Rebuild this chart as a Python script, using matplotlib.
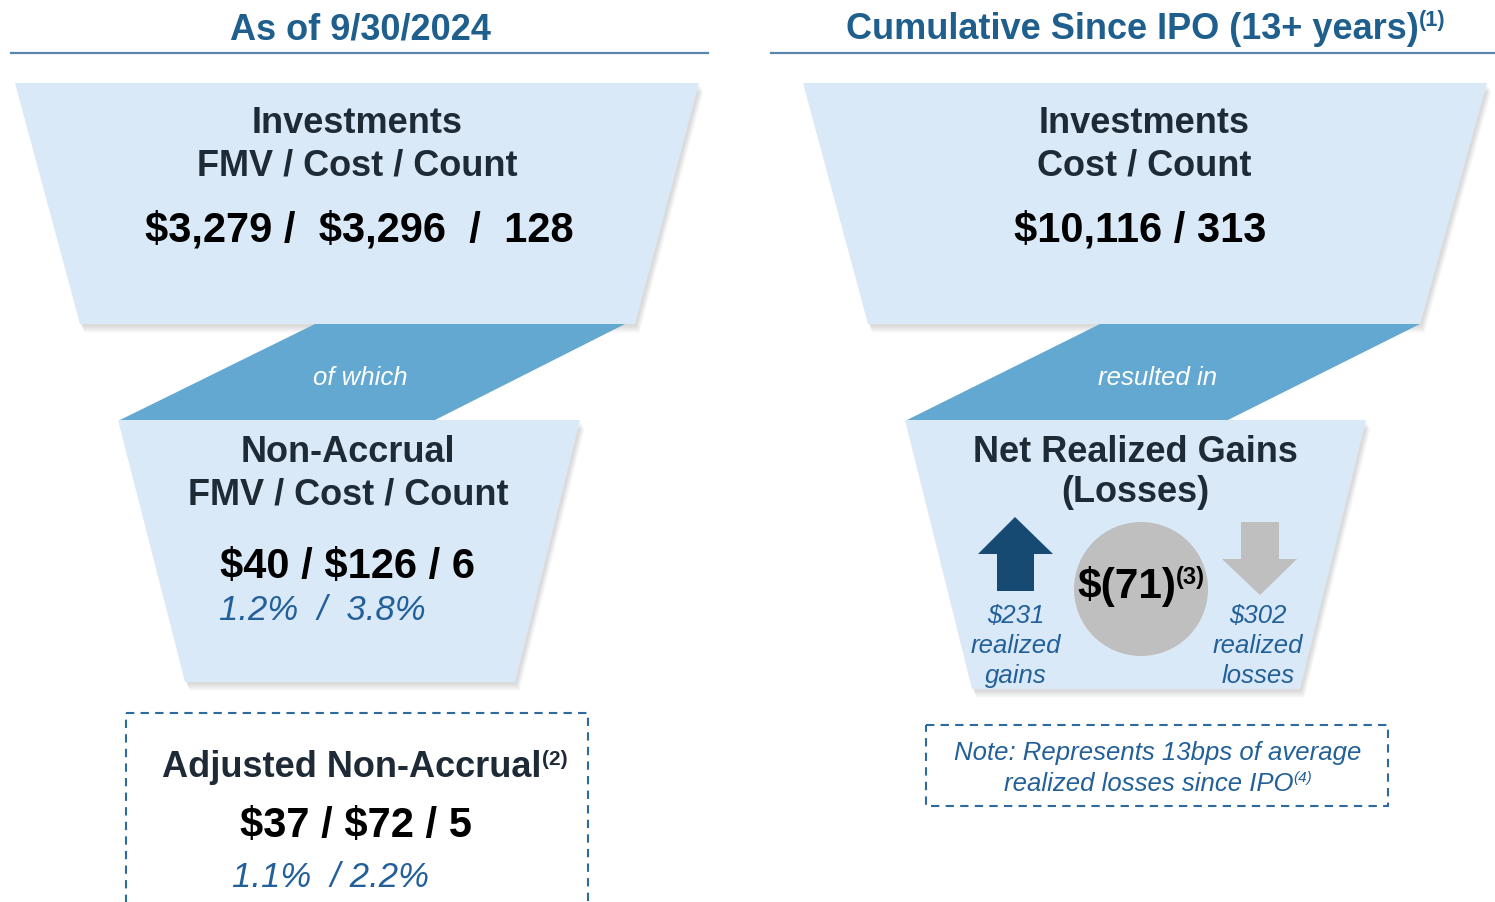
import matplotlib
matplotlib.use("Agg")
import matplotlib.pyplot as plt
from matplotlib.patches import Polygon, Rectangle, Circle
from matplotlib import font_manager
import numpy as np

# ---- texts / values ----
panel_titles = ["As of 9/30/2024", "Cumulative Since IPO (13+ years)"]
title_notes = ["", "(1)"]
top_heads = [["Investments", "FMV / Cost / Count"], ["Investments", "Cost / Count"]]
top_values = ["$3,279 /  $3,296  /  128", "$10,116 / 313"]
connectors = ["of which", "resulted in"]
nonaccrual_head = ["Non-Accrual", "FMV / Cost / Count"]
nonaccrual_value = "$40 / $126 / 6"
nonaccrual_pct = "1.2%  /  3.8%"
adj_head, adj_note = "Adjusted Non-Accrual", "(2)"
adj_value = "$37 / $72 / 5"
adj_pct = "1.1%  / 2.2%"
gains_head = ["Net Realized Gains", "(Losses)"]
net_value, net_note = "$(71)", "(3)"
gains_lines = ["$231", "realized", "gains"]
losses_lines = ["$302", "realized", "losses"]
note_lines = ["Note: Represents 13bps of average", "realized losses since IPO"]
note_ref = "(4)"

# ---- colours ----
TITLE_BLUE = "#1F5F8E"
RULE = "#5A86AD"
FILL = "#DAE9F8"
CONNECT = "#62A8D0"
HEAD = "#1E2B37"
ITAL = "#23609A"
UP = "#174A73"
GREY = "#BFBFBF"
DASH = "#2E6A9E"

names = {f.name for f in font_manager.fontManager.ttflist}
SANS = "Liberation Sans"
NARROW = "Liberation Sans Narrow" if "Liberation Sans Narrow" in names else SANS
title_size = 30 if NARROW != SANS else 26

fig = plt.figure(figsize=(14.95, 9.03), dpi=100)
ax = fig.add_axes([0, 0, 1, 1])
ax.set_xlim(0, 1495)
ax.set_ylim(903, 0)
ax.axis("off")
renderer = fig.canvas.get_renderer()


def txt(x, y, s, size, color=HEAD, weight="bold", style="normal", family=SANS, ha="center"):
    return ax.text(x, y, s, ha=ha, va="baseline", fontsize=size, color=color,
                   fontweight=weight, fontstyle=style, family=family, parse_math=False)


def txt_sup(x, y, main, sup, size, sup_size, rise, color=HEAD, weight="bold",
            sup_weight="bold", style="normal", family=SANS):
    # main text + raised footnote marker, centred together on x
    t1 = txt(0, y, main, size, color, weight, style, family, ha="left")
    t2 = txt(0, y - rise, sup, sup_size, color, sup_weight, style, family, ha="left")
    w1 = t1.get_window_extent(renderer).width
    w2 = t2.get_window_extent(renderer).width
    x0 = x - (w1 + w2) / 2
    t1.set_x(x0)
    t2.set_x(x0 + w1)


def shape(pts, color, shadow=True):
    pts = np.array(pts, dtype=float)
    if shadow:  # soft drop shadow, layered
        for k in range(6, 0, -1):
            sh = pts + np.array([1.0 + 0.6 * k, 1.5 + 1.2 * k])
            ax.add_patch(Polygon(sh, closed=True, facecolor="k", edgecolor="none",
                                 alpha=0.025, zorder=1))
    ax.add_patch(Polygon(pts, closed=True, facecolor=color, edgecolor="none", zorder=2))


# ---- headers ----
txt(360, 39, panel_titles[0], title_size, TITLE_BLUE, family=NARROW)
txt_sup(1146, 39, panel_titles[1], title_notes[1], title_size, title_size * 0.6, 13,
        TITLE_BLUE, family=NARROW)
ax.plot([11, 708], [54, 54], color=RULE, lw=1.6, zorder=3)
ax.plot([771, 1495], [54, 54], color=RULE, lw=1.6, zorder=3)

# ---- left funnel ----
shape([(15, 84), (699, 84), (635, 325), (80, 325)], FILL)
shape([(118, 421), (580, 421), (515, 683), (185, 683)], FILL)
shape([(315, 325), (625, 325), (435, 421), (120, 421)], CONNECT, shadow=False)

txt(357, 133, top_heads[0][0], 26)
txt(357, 176, top_heads[0][1], 26)
txt(359, 242, top_values[0], 30, "black")
txt(360, 385, connectors[0], 18.5, "white", weight="normal", style="italic")
txt(348, 462, nonaccrual_head[0], 26)
txt(348, 505, nonaccrual_head[1], 26)
txt(348, 578, nonaccrual_value, 30, "black")
txt(322, 620, nonaccrual_pct, 25, ITAL, weight="normal", style="italic")

ax.add_patch(Rectangle((126, 714), 462, 220, fill=False, edgecolor=DASH, lw=1.5,
                       linestyle=(0, (4, 3)), zorder=3))
txt_sup(365, 777, adj_head, adj_note, 26, 15, 12)
txt(356, 837, adj_value, 30, "black")
txt(330, 887, adj_pct, 25, ITAL, weight="normal", style="italic")

# ---- right funnel ----
shape([(803, 84), (1487, 84), (1420, 325), (868, 325)], FILL)
shape([(905, 421), (1366, 421), (1300, 690), (972, 690)], FILL)
shape([(1100, 325), (1420, 325), (1228, 421), (907, 421)], CONNECT, shadow=False)

txt(1144, 133, top_heads[1][0], 26)
txt(1144, 176, top_heads[1][1], 26)
txt(1140, 242, top_values[1], 30, "black")
txt(1158, 385, connectors[1], 18.5, "white", weight="normal", style="italic")
txt(1135, 462, gains_head[0], 26)
txt(1135, 502, gains_head[1], 26)

# up arrow (gains), circle (net), down arrow (losses)
ax.add_patch(Polygon([(1015, 518), (1053, 555), (1034, 555), (1034, 592), (997, 592),
                      (997, 555), (978, 555)], closed=True, facecolor=UP,
                     edgecolor="none", zorder=3))
ax.add_patch(Circle((1141, 590), 67, facecolor=GREY, edgecolor="none", zorder=3))
ax.add_patch(Polygon([(1241, 523), (1279, 523), (1279, 560), (1297, 560), (1260, 596),
                      (1222, 560), (1241, 560)], closed=True, facecolor=GREY,
                     edgecolor="none", zorder=3))
txt_sup(1141, 598, net_value, net_note, 30.5, 17, 14, "black")

for i, (g, l) in enumerate(zip(gains_lines, losses_lines)):
    y = 623 + 30 * i
    txt(1016, y, g, 18.5, ITAL, weight="normal", style="italic")
    txt(1258, y, l, 18.5, ITAL, weight="normal", style="italic")

ax.add_patch(Rectangle((926, 726), 462, 81, fill=False, edgecolor=DASH, lw=1.5,
                       linestyle=(0, (4, 3)), zorder=3))
txt(1158, 760, note_lines[0], 18.5, ITAL, weight="normal", style="italic")
txt_sup(1158, 791, note_lines[1], note_ref, 18.5, 11, 9, ITAL, weight="normal",
        sup_weight="normal", style="italic")

fig.savefig("out.png", dpi=100)
